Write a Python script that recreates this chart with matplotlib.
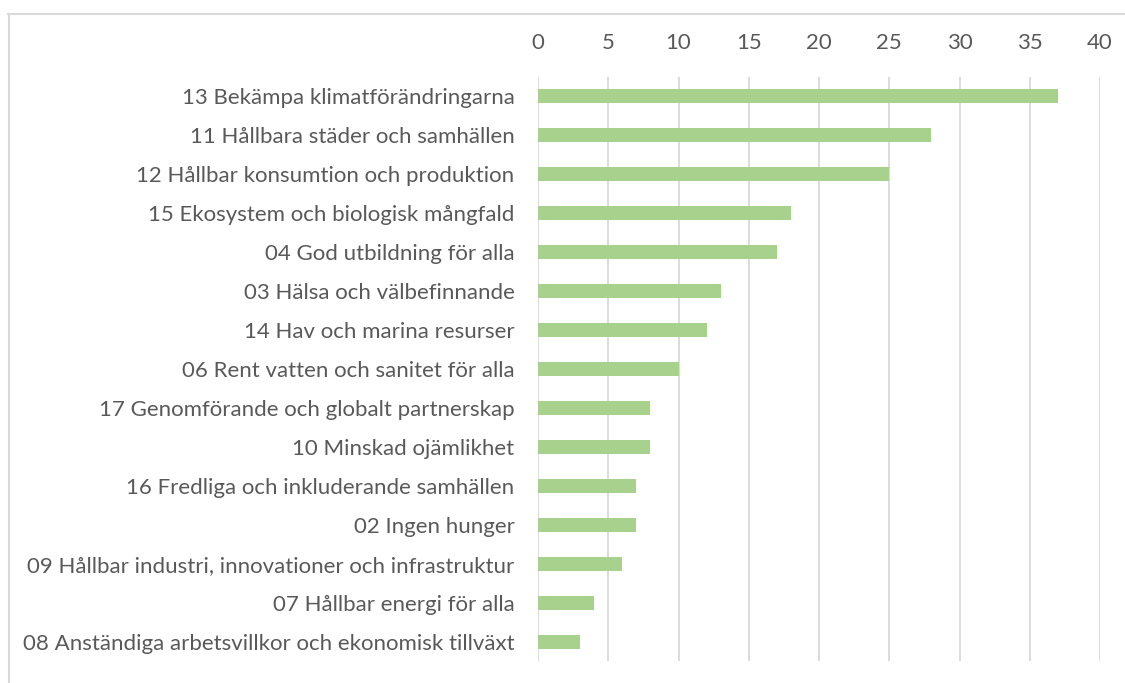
import numpy as np
import matplotlib
matplotlib.use("Agg")
from matplotlib import pyplot as plt
from matplotlib.lines import Line2D

kategorier = [
    "13 Bekämpa klimatförändringarna",
    "11 Hållbara städer och samhällen",
    "12 Hållbar konsumtion och produktion",
    "15 Ekosystem och biologisk mångfald",
    "04 God utbildning för alla",
    "03 Hälsa och välbefinnande",
    "14 Hav och marina resurser",
    "06 Rent vatten och sanitet för alla",
    "17 Genomförande och globalt partnerskap",
    "10 Minskad ojämlikhet",
    "16 Fredliga och inkluderande samhällen",
    "02 Ingen hunger",
    "09 Hållbar industri, innovationer och infrastruktur",
    "07 Hållbar energi för alla",
    "08 Anständiga arbetsvillkor och ekonomisk tillväxt",
]
antal = [37, 28, 25, 18, 17, 13, 12, 10, 8, 8, 7, 7, 6, 4, 3]
xticks = [0, 5, 10, 15, 20, 25, 30, 35, 40]

plt.rcParams['font.family'] = ['Lato', 'DejaVu Sans']
textfarg = '#595959'
gridfarg = '#d9d9d9'

fig = plt.figure(figsize=(11.25, 6.83), dpi=100)
ax = fig.add_axes([538/1125, 1-661/683, (1100-538)/1125, (661-77)/683])

y = np.arange(len(kategorier))
ax.barh(y, antal, height=0.36, color='#a9d18e', zorder=3)

ax.set_ylim(len(kategorier)-0.5, -0.5)
ax.set_xlim(0, 40)
ax.set_xticks(xticks)
ax.set_yticks(y)
ax.set_yticklabels(kategorier)
ax.xaxis.tick_top()
ax.tick_params(axis='x', length=0, pad=17, labelsize=16, labelcolor=textfarg)
ax.tick_params(axis='y', length=0, pad=17, labelsize=16, labelcolor=textfarg)
ax.grid(axis='x', color=gridfarg, linewidth=1.3, zorder=0)
for s in ax.spines.values():
    s.set_visible(False)

# ram runt diagrammet
fig.add_artist(Line2D([8/1125, 1], [1-14/683, 1-14/683], color=gridfarg, lw=1.5, transform=fig.transFigure))
fig.add_artist(Line2D([9/1125, 9/1125], [0, 1-14/683], color=gridfarg, lw=1.5, transform=fig.transFigure))

fig.savefig("out.png", dpi=100)
